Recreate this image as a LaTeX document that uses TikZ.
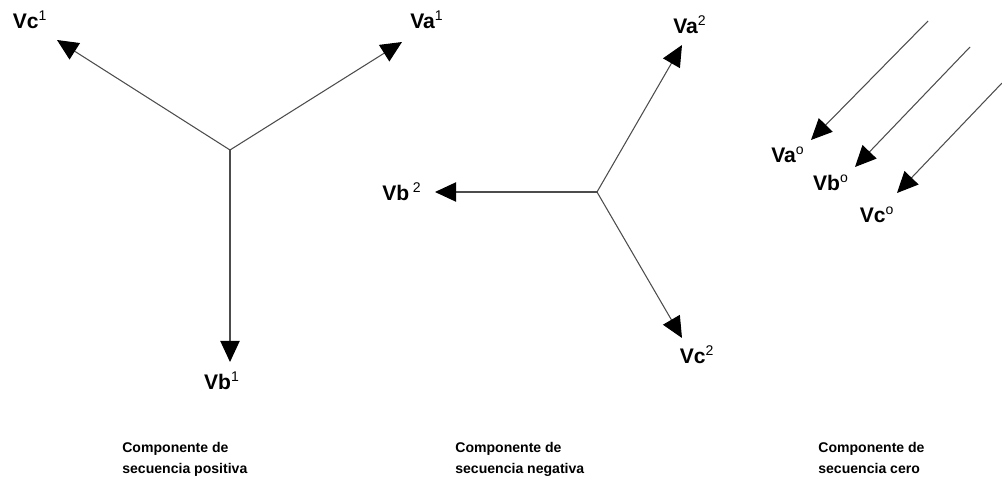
\documentclass[tikz,border=0pt]{standalone}
\usepackage{fontspec}
\setmainfont{Liberation Sans}
\usetikzlibrary{arrows.meta}

\newcommand{\supx}[1]{\textsuperscript{\mdseries\fontsize{8}{8}\selectfont #1}}

\begin{document}
\begin{tikzpicture}[x=0.02cm, y=-0.02cm,
    vec/.style={draw=black!70, line width=0.6pt, -{Triangle[length=12pt, width=11pt, color=black]}},
    lbl/.style={font=\bfseries\fontsize{12}{14}\selectfont, inner sep=0pt},
    capt/.style={font=\bfseries\fontsize{8}{12}\selectfont, align=left, anchor=north west, inner sep=0pt}]
    \useasboundingbox (0,0) rectangle (1002,483);

    % Positive sequence
    \coordinate (P0) at (230,150);
    \foreach \n/\x/\y in {Pa/402/42, Pb/230/362, Pc/57/40} {
      \coordinate (\n) at (\x,\y);
      \draw[vec] (P0) -- (\n);
    }
    \node[lbl] (Va1) at (427,20) {Va\supx{1}};
    \node[lbl] (Vb1) at (222,381) {Vb\supx{1}};
    \node[lbl] (Vc1) at (30,20) {Vc\supx{1}};

    % Negative sequence
    \coordinate (N0) at (597,192);
    \foreach \n/\x/\y in {Na/682/45, Nb/435/192, Nc/682/338} {
      \coordinate (\n) at (\x,\y);
      \draw[vec] (N0) -- (\n);
    }
    \node[lbl] (Va2) at (690,25) {Va\supx{2}};
    \node[lbl] (Vb2) at (402,192) {Vb\,\supx{2}};
    \node[lbl] (Vc2) at (697,355) {Vc\supx{2}};

    % Zero sequence
    \foreach \n/\xs/\ys/\xt/\yt in {Za/928/21/811/140, Zb/970/47/855/167, Zc/1002/83/897/193} {
      \coordinate (\n s) at (\xs,\ys);
      \coordinate (\n t) at (\xt,\yt);
      \draw[vec] (\n s) -- (\n t);
    }
    \node[lbl] (Va0) at (788,155) {Va\supx{o}};
    \node[lbl] (Vb0) at (831,183) {Vb\supx{o}};
    \node[lbl] (Vc0) at (877,215) {Vc\supx{o}};

    % Captions
    \node[capt] (cpos) at (122,442) {Componente de\\secuencia positiva};
    \node[capt] (cneg) at (455,442) {Componente de\\secuencia negativa};
    \node[capt] (czer) at (818,442) {Componente de\\secuencia cero};
\end{tikzpicture}
\end{document}
